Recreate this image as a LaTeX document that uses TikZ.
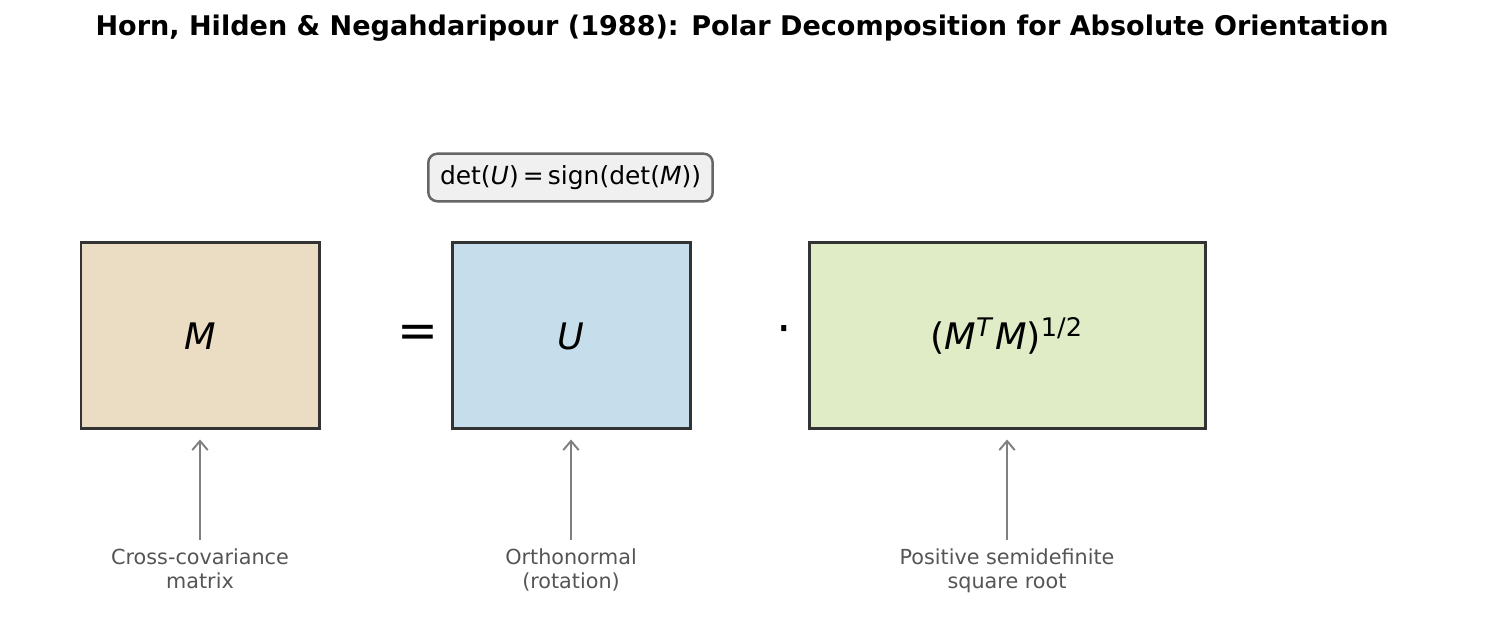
\documentclass[tikz,border=0pt]{standalone}
\usepackage{fontspec}
\setmainfont{DejaVu Sans}
\usetikzlibrary{arrows.meta}

\definecolor{mfill}{RGB}{235,221,196}
\definecolor{ufill}{RGB}{198,221,236}
\definecolor{pfill}{RGB}{223,236,197}
\definecolor{detfill}{RGB}{240,240,240}
\definecolor{edgegray}{RGB}{51,51,51}
\definecolor{notegray}{RGB}{85,85,85}

\tikzset{
  factor/.style={rectangle,draw=edgegray,line width=0.85pt,minimum height=1.86cm,inner sep=0pt,font=\fontsize{10.4}{12}\selectfont},
  note/.style={align=center,text=notegray,inner sep=1pt,font=\fontsize{5.9}{6.6}\selectfont},
  pointer/.style={->,>={Straight Barb[length=2.6pt,width=4.4pt]},color=gray,line width=0.55pt,shorten >=0.09cm,shorten <=0.05cm}
}

\begin{document}
\begin{tikzpicture}

	\useasboundingbox (0,0) rectangle (14.85,6.42);

	% title

	\node[font=\bfseries\fontsize{7.7}{10}\selectfont] (title) at (7.42,6.14) {Horn, Hilden \& Negahdaripour (1988): Polar Decomposition for Absolute Orientation};

	% factors

	\node[factor,fill=mfill,minimum width=2.38cm] (boxM) at (2.00,3.06) {\textit{M}};
	\node[factor,fill=ufill,minimum width=2.38cm] (boxU) at (5.71,3.06) {\textit{U}};
	\node[factor,fill=pfill,minimum width=3.96cm] (boxP) at (10.07,3.06) {(\textit{M}\textsuperscript{\textit{T}}\textit{M})\textsuperscript{1/2}};

	\node[font=\fontsize{13.9}{16}\selectfont] (eq) at (4.18,3.06) {=};
	\node[font=\fontsize{13.9}{16}\selectfont] (dot) at (7.84,3.06) {·};

	% constraint

	\node[rectangle,rounded corners=0.09cm,draw=black!60,line width=0.7pt,fill=detfill,minimum width=2.81cm,minimum height=0.47cm,font=\fontsize{7.1}{8}\selectfont] (det) at (5.705,4.645) {det(\textit{U})\,=\,sign(det(\textit{M}))};

	% notes

	\node[note,anchor=north] (noteM) at (2.00,0.97) {Cross-covariance\\matrix};
	\node[note,anchor=north] (noteU) at (5.71,0.97) {Orthonormal\\(rotation)};
	\node[note,anchor=north] (noteP) at (10.07,0.97) {Positive semidefinite\\square root};

	\draw[pointer] (noteM.north) -- (boxM.south);
	\draw[pointer] (noteU.north) -- (boxU.south);
	\draw[pointer] (noteP.north) -- (boxP.south);

\end{tikzpicture}
\end{document}
